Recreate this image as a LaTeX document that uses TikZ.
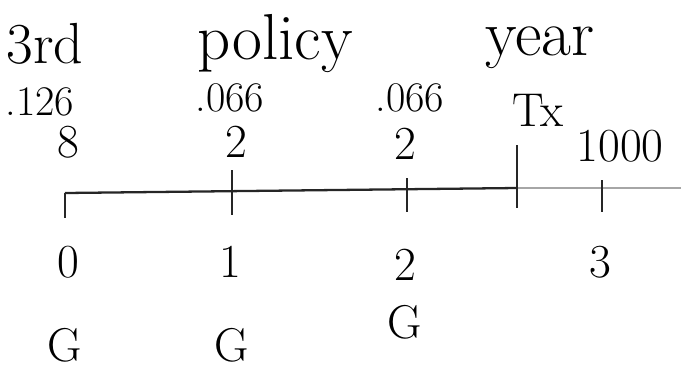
\documentclass[tikz,border=0pt]{standalone}
\usetikzlibrary{positioning}
\begin{document}
\begin{tikzpicture}[x=0.02cm, y=-0.02cm,
    word/.style={font=\fontsize{37}{37}\selectfont, inner sep=0pt},
    val/.style={font=\fontsize{24}{24}\selectfont, inner sep=0pt},
    num/.style={font=\fontsize{27}{27}\selectfont, inner sep=0pt},
    axis/.style={line width=1.3pt, black!85},
    faint/.style={line width=1pt, black!35},
    tick/.style={line width=1.1pt, black!85},
  ]
  \useasboundingbox (0,0) rectangle (681,370);

  % Title
  \node[word, font=\fontsize{33}{33}\selectfont] (third) at (45,44) {3rd};
  \node[word] (policy) at (275,44) {policy};
  \node[word] (year) at (540,48) {year};

  % Rates and counts above the line
  \node[val] (r0) at (40,102) {.126};
  \node[num] (c0) at (68,142) {8};
  \node[val] (r1) at (230,98) {.066};
  \node[num] (c1) at (236,142) {2};
  \node[val] (r2) at (410,98) {.066};
  \node[num] (c2) at (405,144) {2};
  \node[num] (tx) at (538,110) {Tx};
  \node[num] (amt) at (620,146) {1000};

  % Time line
  \coordinate (start) at (65,193);
  \coordinate (txpt) at (517,188);
  \coordinate (stop) at (681,188);
  \draw[axis] (start) -- (txpt);
  \draw[faint] (txpt) -- (stop);

  % Ticks
  \foreach \x/\t/\b/\n in {65/193/218/0, 232/170/215/1, 407/178/212/2,
      517/145/208/tx, 602/180/212/3} {
    \coordinate (top\n) at (\x,\t);
    \coordinate (bot\n) at (\x,\b);
    \draw[tick] (top\n) -- (bot\n);
  }

  % Years below the line
  \node[num] (y0) at (68,262) {0};
  \node[num] (y1) at (230,262) {1};
  \node[num] (y2) at (405,265) {2};
  \node[num] (y3) at (600,262) {3};

  \node[num] (g0) at (65,345) {G};
  \node[num] (g1) at (232,345) {G};
  \node[num] (g2) at (405,322) {G};

\end{tikzpicture}
\end{document}
